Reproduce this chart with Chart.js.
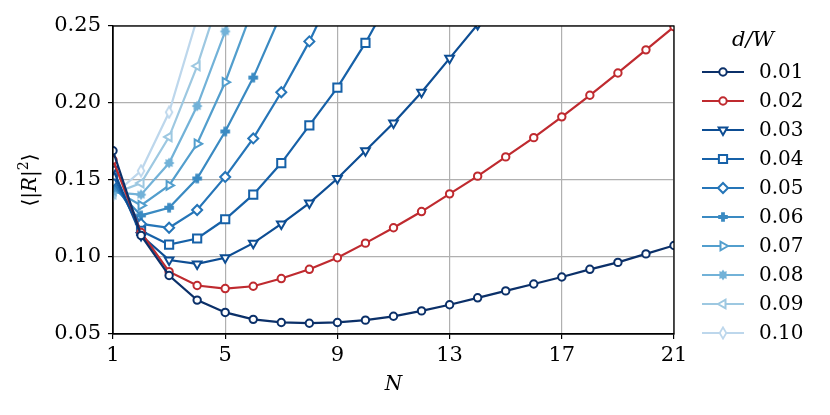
<!DOCTYPE html>
<html>
<head>
<meta charset="utf-8">
<script src="https://cdn.jsdelivr.net/npm/chart.js@4.4.1/dist/chart.umd.min.js"></script>
<style>
html,body{margin:0;padding:0;background:#fff;}
</style>
</head>
<body>
<canvas id="rChart" width="830" height="415"></canvas>
<script>
// N values on the x axis
const nValues=[1,2,3,4,5,6,7,8,9,10,11,12,13,14,15,16,17,18,19,20,21];
const xTicks=[1,5,9,13,17,21];
const yTicks=[0.05,0.10,0.15,0.20,0.25];
const ratioLabels=['0.01','0.02','0.03','0.04','0.05','0.06','0.07','0.08','0.09','0.10'];

// <|R|^2> for each d/W (series that leave the plot stop one point past the top)
const r001=[0.169,0.114,0.088,0.072,0.064,0.0595,0.0575,0.057,0.0575,0.059,0.0615,0.065,0.069,0.0735,0.078,0.0825,0.087,0.092,0.0965,0.102,0.1075];
const r002=[0.163,0.116,0.0905,0.0815,0.0795,0.081,0.086,0.092,0.0995,0.109,0.119,0.1295,0.141,0.1525,0.165,0.1775,0.191,0.205,0.2195,0.2345,0.2495];
const r003=[0.157,0.114,0.098,0.0955,0.0995,0.109,0.1215,0.135,0.151,0.169,0.187,0.207,0.229,0.251];
const r004=[0.153,0.117,0.108,0.112,0.1245,0.1405,0.161,0.1855,0.21,0.239,0.272];
const r005=[0.149,0.1215,0.119,0.1305,0.152,0.177,0.207,0.24,0.278];
const r006=[0.146,0.127,0.132,0.151,0.1815,0.2165,0.258];
const r007=[0.144,0.1335,0.1465,0.1735,0.2135,0.262];
const r008=[0.142,0.1405,0.161,0.198,0.2465,0.30];
const r009=[0.141,0.148,0.178,0.224,0.28];
const r010=[0.140,0.156,0.194,0.255];

const allSeries=[r001,r002,r003,r004,r005,r006,r007,r008,r009,r010];
const colors=['#0b3069','#bf2a2f','#0d4d93','#1661a8','#2575b8','#3a8ac2','#529ecd','#72b2d8','#9dc8e1','#bdd7ec'];

const SERIF='"DejaVu Serif", serif';

// small canvas markers for shapes Chart.js has no built-in for
function makeMarker(kind,color){
    const c=document.createElement('canvas');
    c.width=14;c.height=14;
    const g=c.getContext('2d');
    g.translate(7,7);
    g.lineWidth=1.8;
    g.strokeStyle=color;
    g.fillStyle=color;
    g.beginPath();
    if(kind==='plus'){
        const a=4.8,b=1.9;
        g.moveTo(-b,-a);g.lineTo(b,-a);g.lineTo(b,-b);g.lineTo(a,-b);g.lineTo(a,b);g.lineTo(b,b);
        g.lineTo(b,a);g.lineTo(-b,a);g.lineTo(-b,b);g.lineTo(-a,b);g.lineTo(-a,-b);g.lineTo(-b,-b);
        g.closePath();g.fill();
    } else if(kind==='star'){
        for(let i=0;i<16;i++){
            const r=i%2===0?5.4:3.6;
            const ang=i*Math.PI/8-Math.PI/2;
            if(i===0)g.moveTo(r*Math.cos(ang),r*Math.sin(ang));
            else g.lineTo(r*Math.cos(ang),r*Math.sin(ang));
        }
        g.closePath();g.fill();
    } else if(kind==='thin'){
        g.fillStyle='#fff';
        g.moveTo(0,-5.6);g.lineTo(3.3,0);g.lineTo(0,5.6);g.lineTo(-3.3,0);g.closePath();
        g.fill();g.stroke();
    }
    return c;
}

const markerSpecs=[
    {style:'circle',radius:3.7,rot:0},
    {style:'circle',radius:3.7,rot:0},
    {style:'triangle',radius:5,rot:180},
    {style:'rect',radius:5.8,rot:0},
    {style:'rectRot',radius:5,rot:0},
    {style:'plus',radius:5,rot:0},
    {style:'triangle',radius:5,rot:90},
    {style:'star',radius:5,rot:0},
    {style:'triangle',radius:5,rot:-90},
    {style:'thin',radius:5,rot:0}
];

function pointStyleFor(i){
    const s=markerSpecs[i].style;
    if(s==='plus'||s==='star'||s==='thin')return makeMarker(s,colors[i]);
    return s;
}

const datasets=allSeries.map((vals,i)=>({
    label:ratioLabels[i],
    data:vals.map((v,k)=>({x:nValues[k],y:v})),
    borderColor:colors[i],
    backgroundColor:colors[i],
    borderWidth:2.2,
    pointStyle:pointStyleFor(i),
    pointRadius:markerSpecs[i].radius,
    pointRotation:markerSpecs[i].rot,
    pointBorderColor:colors[i],
    pointBackgroundColor:'#fff',
    pointBorderWidth:2,
    tension:0
}));

const decorations={
    id:'decorations',
    afterDraw(chart){
        const ctx=chart.ctx;
        const a=chart.chartArea;
        ctx.save();
        // top and right spines
        ctx.strokeStyle='#000';
        ctx.lineWidth=1.3;
        ctx.strokeRect(a.left,a.top,a.right-a.left,a.bottom-a.top);

        // x title
        ctx.fillStyle='#000';
        ctx.textAlign='center';
        ctx.textBaseline='middle';
        ctx.font='italic 20px '+SERIF;
        ctx.fillText('N',(a.left+a.right)/2,385);

        // y title <|R|^2>
        ctx.save();
        ctx.translate(31,(a.top+a.bottom)/2);
        ctx.rotate(-Math.PI/2);
        const parts=[
            {t:'\u27E8|',f:'20px '+SERIF,dy:0},
            {t:'R',f:'italic 20px '+SERIF,dy:0},
            {t:'|',f:'20px '+SERIF,dy:0},
            {t:'2',f:'14px '+SERIF,dy:-7},
            {t:'\u27E9',f:'20px '+SERIF,dy:0}
        ];
        let total=0;
        parts.forEach(p=>{ctx.font=p.f;p.w=ctx.measureText(p.t).width;total+=p.w;});
        let px=-total/2;
        ctx.textAlign='left';
        parts.forEach(p=>{ctx.font=p.f;ctx.fillText(p.t,px,p.dy);px+=p.w;});
        ctx.restore();

        // legend
        ctx.font='italic 21px '+SERIF;
        ctx.textAlign='center';
        ctx.fillText('d/W',753,41);
        ctx.font='20px '+SERIF;
        chart.data.datasets.forEach((ds,i)=>{
            const y=72+i*29;
            ctx.strokeStyle=ds.borderColor;
            ctx.lineWidth=2.2;
            ctx.beginPath();
            ctx.moveTo(702,y);ctx.lineTo(744,y);
            ctx.stroke();
            ctx.fillStyle='#fff';
            ctx.strokeStyle=ds.borderColor;
            ctx.lineWidth=2;
            Chart.helpers.drawPoint(ctx,{pointStyle:ds.pointStyle,rotation:ds.pointRotation,radius:ds.pointRadius,borderWidth:2},723,y);
            ctx.fillStyle='#000';
            ctx.textAlign='left';
            ctx.fillText(ds.label,759,y+1);
        });
        ctx.restore();
    }
};

new Chart(document.getElementById('rChart'),{
    type:'line',
    data:{datasets:datasets},
    options:{
        responsive:false,
        animation:false,
        layout:{padding:{left:0,right:156,top:26,bottom:0}},
        plugins:{
            legend:{display:false},
            tooltip:{enabled:false}
        },
        scales:{
            x:{
                type:'linear',
                min:1,
                max:21,
                afterBuildTicks:(s)=>{s.ticks=xTicks.map(v=>({value:v}));},
                afterFit:(s)=>{s.height=81;},
                ticks:{color:'#000',font:{family:SERIF,size:21},padding:4,maxRotation:0},
                grid:{color:'#b0b0b0',lineWidth:1.2,tickColor:'#000',tickLength:5,tickWidth:1.2},
                border:{color:'#000',width:1.3}
            },
            y:{
                min:0.05,
                max:0.25,
                afterBuildTicks:(s)=>{s.ticks=yTicks.map(v=>({value:v}));},
                afterFit:(s)=>{s.width=113;},
                ticks:{color:'#000',font:{family:SERIF,size:21},padding:7,callback:(v)=>v.toFixed(2)},
                grid:{color:'#b0b0b0',lineWidth:1.2,tickColor:'#000',tickLength:5,tickWidth:1.2},
                border:{color:'#000',width:1.3}
            }
        }
    },
    plugins:[decorations]
});
</script>
</body>
</html>
